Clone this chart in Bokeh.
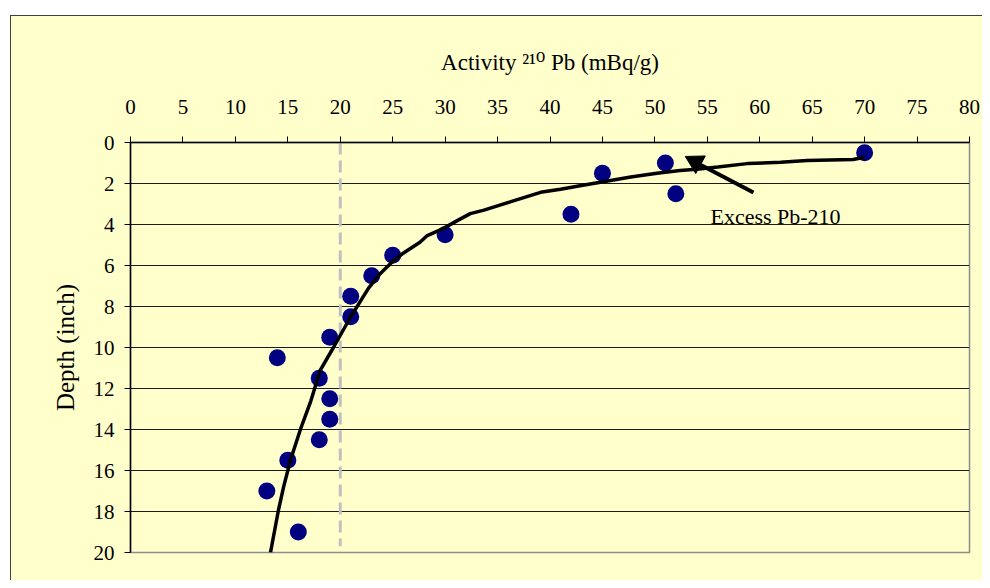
import math
from bokeh.plotting import figure
from bokeh.models import Range1d, FixedTicker, Label
from bokeh.embed import file_html
from bokeh.resources import INLINE

# Measured points
activity = [70, 51, 45, 52, 42, 30, 25, 23, 21, 21, 19, 14, 18, 19, 19, 18, 15, 13, 16]
depth = [0.5, 1, 1.5, 2.5, 3.5, 4.5, 5.5, 6.5, 7.5, 8.5, 9.5, 10.5, 11.5, 12.5, 13.5, 14.5, 15.5, 17, 19]

# Fitted curve
fit_activity = [70.0, 68.9, 64.5, 62.0, 58.8, 56.0, 54.0, 52.4, 50.2, 47.7, 45.5, 43.0, 41.0,
                39.1, 36.2, 33.7, 32.4, 31.2, 29.8, 28.3, 27.6, 26.0, 24.8, 23.8, 22.7, 21.0,
                19.35, 18.1, 17.2, 16.2, 15.25, 14.6, 14.1, 13.35]
fit_depth = [0.72, 0.83, 0.88, 0.96, 1.03, 1.2, 1.3, 1.37, 1.5, 1.68, 1.88, 2.1, 2.28,
             2.43, 2.9, 3.3, 3.47, 3.8, 4.2, 4.54, 4.87, 5.4, 5.9, 6.4, 7.1, 8.5,
             10.0, 11.1, 12.6, 14.0, 15.5, 16.8, 17.95, 20.0]

# Background level line
background_activity = [20, 20]
background_depth = [0, 19.7]

# Annotation arrow: shaft (tail -> head base) and head position
arrow_activity = [59.4, 54.2]
arrow_depth = [2.44, 1.05]
head_activity = [53.87]
head_depth = [0.95]
note_activity = [55.3]
note_depth = [3.62]
note_text = ["Excess Pb-210"]

x_title = "Activity \u00b2\u00b9\u2070 Pb (mBq/g)"
y_title = "Depth (inch)"

x_ticks = list(range(0, 81, 5))
y_ticks = list(range(0, 21, 2))

BG = "#FFFFCC"
SERIF = "Liberation Serif"

bg_css = ("linear-gradient(to bottom, white 0 15px, transparent 15px), "
          "linear-gradient(to right, white 0 10px, #404040 10px 11.5px, transparent 11.5px), "
          "linear-gradient(to bottom, white 0 15px, #404040 15px 16.5px, #FFFFCC 16.5px)")

p = figure(width=982, height=580, output_backend="svg", toolbar_location=None,
           x_range=Range1d(0, 80), y_range=Range1d(20, 0),
           x_axis_location="above",
           min_border_left=130, min_border_right=13, min_border_top=142, min_border_bottom=28,
           background_fill_color=BG, border_fill_color=None,
           styles={"background": bg_css})

p.outline_line_color = "#8c8c8c"
p.outline_line_width = 1.5

p.xgrid.visible = False
p.ygrid.ticker = FixedTicker(ticks=y_ticks[1:-1])
p.ygrid.grid_line_color = "#1a1a1a"
p.ygrid.grid_line_width = 1

for ax in (p.xaxis[0], p.yaxis[0]):
    ax.axis_line_color = "black"
    ax.axis_line_width = 1.5
    ax.major_tick_line_color = "black"
    ax.major_tick_line_width = 1
    ax.major_tick_out = 6
    ax.major_tick_in = 0
    ax.minor_tick_line_color = None
    ax.major_label_text_font = SERIF
    ax.major_label_text_font_size = "21px"
    ax.major_label_text_color = "black"
    ax.axis_label_text_font_style = "normal"
    ax.axis_label_text_color = "black"

p.xaxis.ticker = FixedTicker(ticks=x_ticks)
p.yaxis.ticker = FixedTicker(ticks=y_ticks)
p.xaxis.major_label_standoff = 23
p.yaxis.major_label_standoff = 10

p.xaxis.axis_label = x_title
p.xaxis.axis_label_text_font = "Liberation Serif, DejaVu Serif"
p.xaxis.axis_label_text_font_size = "23px"
p.xaxis.axis_label_standoff = 22

p.yaxis.axis_label = y_title
p.yaxis.axis_label_text_font = SERIF
p.yaxis.axis_label_text_font_size = "25px"
p.yaxis.axis_label_standoff = 12

# Dashed background line
p.line(background_activity, background_depth, line_color="#C0C0C0", line_width=3, line_dash="12 6")

# Data points
p.scatter(activity, depth, size=17, fill_color="#000080", line_color=None)

# Fit curve
p.line(fit_activity, fit_depth, line_color="black", line_width=3.5)

# Arrow shaft and head
p.line(arrow_activity, arrow_depth, line_color="black", line_width=4)
head_angle = math.atan2(37, -68) - math.pi / 2
p.scatter(head_activity, head_depth, marker="triangle", size=20, angle=head_angle,
          fill_color="black", line_color="black")

p.add_layout(Label(x=note_activity[0], y=note_depth[0], text=note_text[0],
                   text_font=SERIF, text_font_size="22px", text_baseline="alphabetic",
                   text_color="black"))

open("out.html", "w").write(file_html(p, INLINE))
